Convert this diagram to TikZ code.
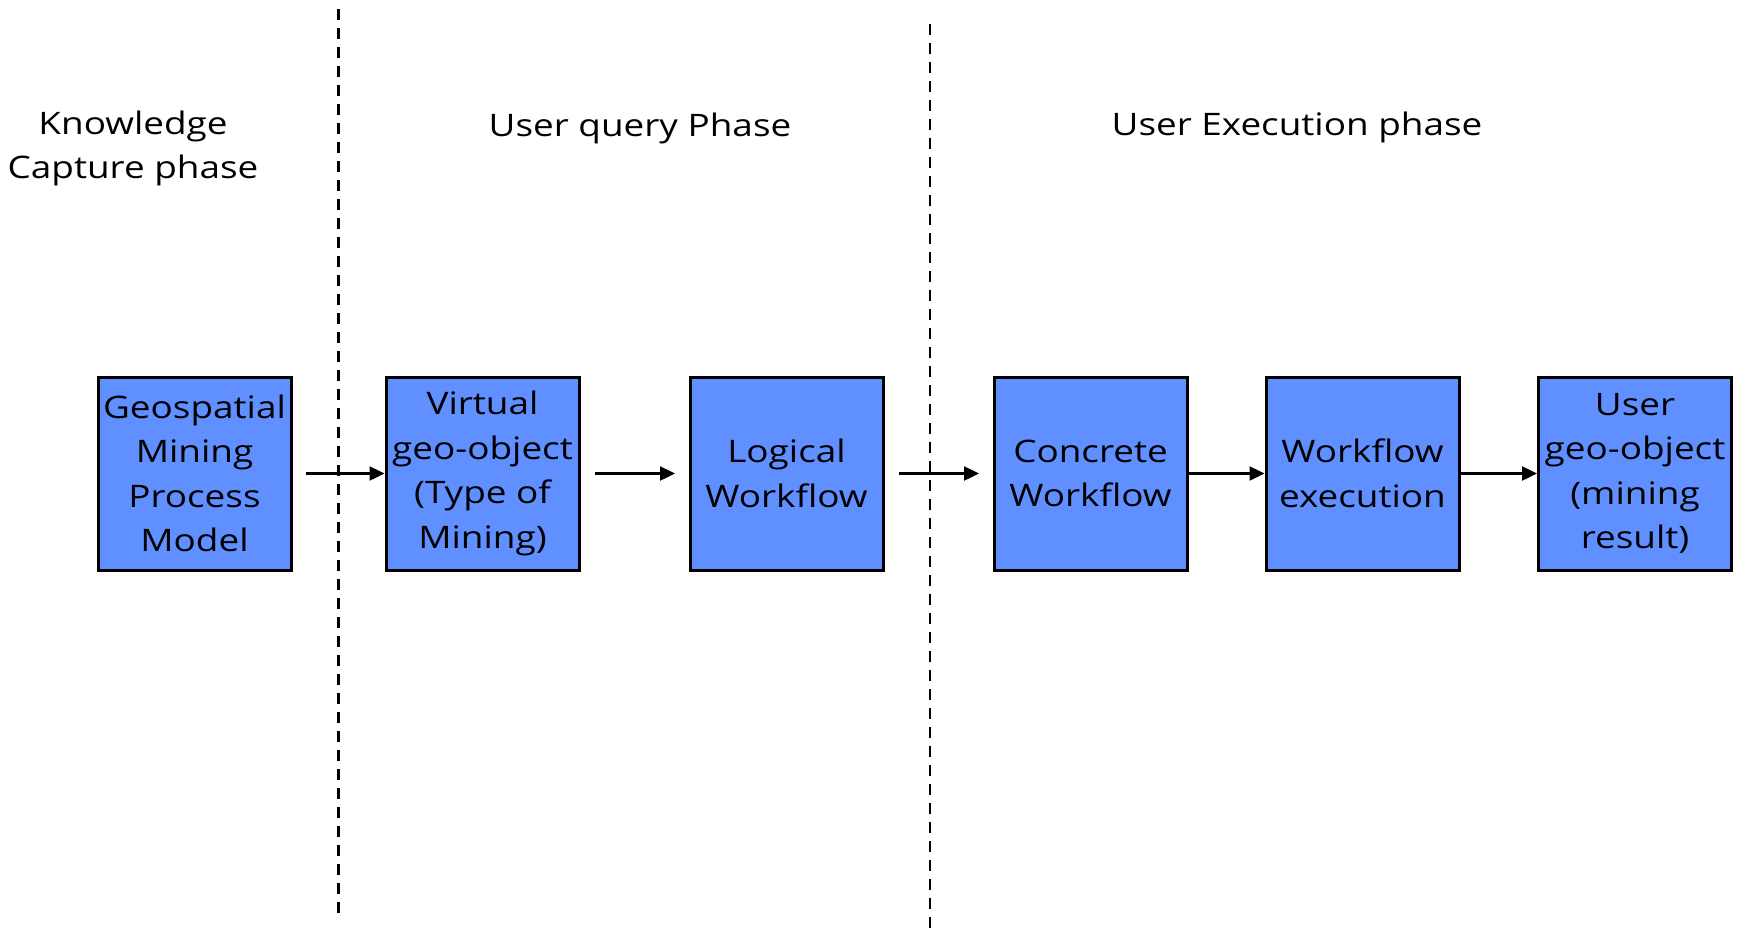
\documentclass[tikz,border=0pt]{standalone}
\usepackage{fontspec}
\setmainfont{Open Sans}[FakeStretch=1.19]
\usetikzlibrary{arrows.meta}
\definecolor{boxblue}{RGB}{96,143,255}
\tikzset{
  stage/.style={draw=black, line width=3pt, fill=boxblue, minimum width=193pt,
    minimum height=193pt, inner sep=0pt, align=center,
    font=\fontsize{31}{44.5}\selectfont,
    execute at begin node={\vspace*{8pt}}},
  phase/.style={align=center, inner sep=0pt, font=\fontsize{31}{44}\selectfont},
  divider/.style={line width=2.4pt, dash pattern=on 11pt off 8pt},
  flow/.style={line width=2.4pt, -{Triangle[length=15pt,width=14pt]}}
}
\begin{document}
\begin{tikzpicture}[x=1pt,y=-1pt]
\useasboundingbox (0,0) rectangle (1746,932);
% phase separators
\coordinate (d1t) at (338.5,9);
\coordinate (d1b) at (338.5,916);
\coordinate (d2t) at (930,24);
\coordinate (d2b) at (930,932);
\draw[divider] (d1t) -- (d1b);
\draw[divider] (d2t) -- (d2b);
% phase titles
\node[phase] (kc) at (133,148.5) {Knowledge\\Capture phase};
\node[phase] (uq) at (640,128) {User query Phase};
\node[phase] (ue) at (1297,127) {User Execution phase};
% stages
\node[stage] (gm) at (194.5,473.5) {Geospatial\\Mining\\Process\\Model};
\node[stage] (vg) at (482.5,473.5) {Virtual\\geo-object\\(Type of\\Mining)};
\node[stage] (lw) at (786.5,473.5) {Logical\\Workflow};
\node[stage] (cw) at (1090.5,473.5) {Concrete\\Workflow};
\node[stage] (we) at (1362.5,473.5) {Workflow\\execution};
\node[stage] (ug) at (1635,473.5) {User\\geo-object\\(mining\\result)};
% connectors
\coordinate (a1) at (306,473.5);
\coordinate (a2s) at (595,473.5);
\coordinate (a2e) at (675,473.5);
\coordinate (a3s) at (899,473.5);
\coordinate (a3e) at (979,473.5);
\draw[flow] (a1) -- (vg.west);
\draw[flow] (a2s) -- (a2e);
\draw[flow] (a3s) -- (a3e);
\draw[flow] (cw.east) -- (we.west);
\draw[flow] (we.east) -- (ug.west);
\end{tikzpicture}
\end{document}
